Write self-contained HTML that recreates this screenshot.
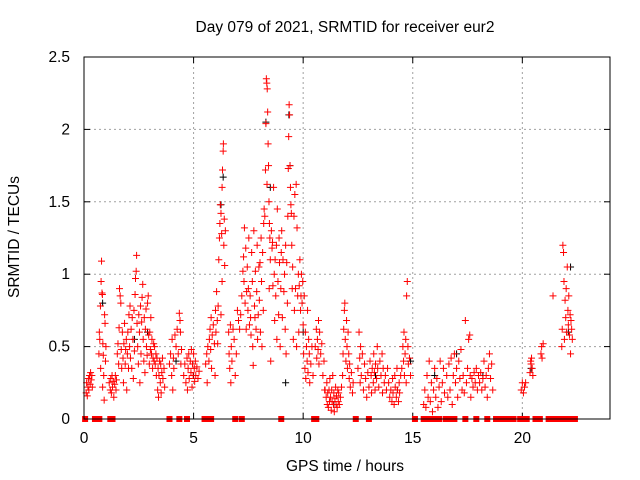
<!DOCTYPE html>
<html><head><meta charset="utf-8">
<style>
html,body{margin:0;padding:0;background:#fff;}
svg{display:block;font-family:"Liberation Sans",sans-serif;}
</style></head>
<body>
<svg id="chart" width="640" height="480" viewBox="0 0 640 480">
  <text x="345" y="32" font-size="15.5" text-anchor="middle" fill="#000">Day 079 of 2021, SRMTID for receiver eur2</text>
  <text x="0" y="0" font-size="15.5" text-anchor="middle" transform="translate(19,237) rotate(-90)">SRMTID / TECUs</text>
  <text x="345" y="471" font-size="15.5" text-anchor="middle">GPS time / hours</text>
  <g id="grid"></g>
  <g id="ticks"></g>
  <g id="marks"></g>
  <rect x="84" y="57" width="526" height="362" fill="none" stroke="#000" stroke-width="1"/>
</svg>
<script>
const xTicks = [0, 5, 10, 15, 20];
const yTicks = [0, 0.5, 1, 1.5, 2, 2.5];
const yTickLabels = ["0", "0.5", "1", "1.5", "2", "2.5"];
const redPoints = [
[0.1,.18],[0.12,.25],[0.15,.16],[0.18,.22],[0.2,.28],[0.22,.2],[0.25,.3],[0.28,.24],[0.3,.32],[0.33,.27],[0.36,.3],[0.38,.22],
[0.68,.45],[0.7,.6],[0.72,.55],[0.75,.78],[0.78,.95],[0.8,1.09],[0.82,.87],[0.84,.86],[0.86,.52],[0.88,.44],[0.9,.3],[0.92,.13],[0.94,.72],[0.96,.66],[0.98,.4],[1.0,.5],[0.85,.22],[0.76,.35],
[1.15,.25],[1.2,.2],[1.22,.28],[1.25,.18],[1.28,.3],[1.3,.22],[1.33,.26],[1.36,.15],[1.4,.24],[1.43,.3],[1.46,.2],[1.48,.27],
[1.52,.45],[1.55,.52],[1.58,.38],[1.6,.63],[1.62,.9],[1.65,.85],[1.68,.8],[1.7,.48],[1.72,.35],[1.75,.6],[1.78,.42],[1.8,.25],[1.82,.52],[1.85,.66],[1.88,.38],[1.9,.48],[1.93,.55],[1.95,.2],[1.98,.45],[2.0,.6],[2.03,.35],
[2.05,.72],[2.08,.5],[2.1,.78],[2.12,.42],[2.15,.62],[2.18,.35],[2.2,.7],[2.23,.55],[2.25,.28],[2.28,.75],[2.3,.47],[2.33,.86],[2.35,.97],[2.38,1.02],[2.4,1.13],[2.42,.66],[2.45,.5],[2.48,.38],[2.5,.72],[2.53,.6],[2.55,.25],[2.58,.78],[2.6,.45],[2.63,.67],[2.65,.84],[2.68,.93],[2.7,.55],[2.73,.4],[2.75,.7],[2.78,.32],[2.8,.62],[2.83,.76],[2.85,.5],[2.88,.44],[2.9,.8],[2.93,.85],[2.95,.58],[2.98,.38],[3.0,.6],[3.03,.48],[3.05,.7],[3.08,.45],[3.1,.55],[3.13,.35],[3.15,.42],[3.18,.52],
[3.2,.4],[3.22,.5],[3.25,.38],[3.28,.45],[3.3,.3],[3.33,.42],[3.36,.2],[3.38,.35],[3.4,.15],[3.42,.3],[3.45,.4],[3.48,.25],[3.5,.38],[3.52,.18],[3.55,.32],[3.58,.42],[3.6,.28],[3.65,.35],[3.68,.22],
[3.9,.38],[3.95,.45],[4.0,.3],[4.02,.55],[4.05,.2],[4.08,.42],[4.1,.35],[4.15,.58],[4.2,.5],[4.25,.62],[4.3,.45],[4.35,.73],[4.38,.68],[4.4,.6],[4.42,.38],[4.45,.48],
[4.55,.3],[4.6,.38],[4.65,.25],[4.7,.42],[4.72,.2],[4.75,.35],[4.78,.45],[4.8,.28],[4.85,.4],[4.88,.32],[4.9,.48],[4.93,.22],[4.95,.38],[4.98,.3],[5.0,.45],[5.03,.35],[5.05,.26],[5.08,.4],[5.1,.3],[5.15,.36],[5.2,.28],[5.25,.33],
[5.55,.38],[5.6,.45],[5.62,.25],[5.65,.5],[5.7,.4],[5.72,.55],[5.75,.62],[5.78,.48],[5.8,.7],[5.82,.35],[5.85,.58],[5.9,.65],[5.95,.52],[5.98,.3],
[6.0,.75],[6.02,.6],[6.05,.88],[6.08,.68],[6.1,.52],[6.12,.78],[6.15,1.1],[6.18,1.25],[6.2,1.35],[6.22,1.48],[6.25,1.42],[6.28,1.28],[6.3,1.6],[6.32,1.72],[6.35,1.85],[6.36,1.9],[6.38,1.2],[6.4,1.38],[6.42,1.06],[6.45,1.3],[6.3,.95],[6.25,.72],
[6.6,.6],[6.62,.45],[6.65,.35],[6.68,.65],[6.7,.25],[6.72,.5],[6.75,.4],[6.8,.62],[6.85,.55],[6.9,.3],[6.95,.45],
[7.0,.75],[7.05,.68],[7.1,.62],[7.15,.72],[7.2,.85],[7.25,1.02],[7.28,1.12],[7.3,.95],[7.32,1.32],[7.35,.8],[7.38,1.18],[7.4,.62],[7.42,.88],[7.45,1.05],[7.48,.75],[7.5,.9],[7.52,1.25],[7.55,.65],[7.58,.85],[7.6,.7],[7.62,.58],[7.65,1.15],[7.68,.95],[7.7,.5],[7.72,.37],[7.75,1.3],[7.78,.78],[7.8,.7],[7.82,1.02],[7.85,.62],[7.88,.88],[7.9,1.2],[7.92,.55],[7.95,.72],[7.98,1.05],
[8.0,.82],[8.03,1.08],[8.05,.6],[8.08,1.25],[8.1,.95],[8.12,.5],[8.15,1.15],[8.18,.75],[8.2,1.35],[8.22,1.45],[8.25,1.4],[8.28,1.72],[8.3,2.04],[8.32,2.35],[8.34,2.32],[8.36,2.28],[8.38,2.12],[8.4,1.9],[8.42,1.75],[8.44,1.5],[8.46,1.35],[8.48,1.25],[8.5,1.1],[8.52,.4],[8.55,1.3],[8.58,1.18],[8.35,1.62],[8.45,.9],
[8.6,1.22],[8.62,.92],[8.65,1.6],[8.68,1.0],[8.7,.68],[8.72,1.1],[8.75,.85],[8.78,1.2],[8.8,.55],[8.82,1.45],[8.85,.95],[8.88,.72],[8.9,1.25],[8.92,1.08],[8.95,.5],[8.98,.9],[9.0,1.15],[9.02,1.3],[9.05,.7],[9.08,1.1],[9.12,.88],[9.15,1.0],[9.18,.62],[9.2,1.2],[9.22,.45],[9.25,1.08],[9.28,.8],
[9.3,1.4],[9.32,1.73],[9.34,1.95],[9.36,2.17],[9.38,2.1],[9.4,1.75],[9.42,1.6],[9.44,1.48],[9.46,1.42],[9.48,1.2],[9.5,.9],[9.52,1.05],[9.55,.55],[9.58,1.4],[9.6,.75],[9.62,1.55],[9.65,.9],[9.68,1.62],[9.7,.5],[9.72,1.32],[9.75,.85],[9.78,1.0],[9.8,.6],[9.82,.92],[9.85,1.1],[9.88,.75],[9.9,.85],[9.92,1.0],[9.95,.8],[9.98,.95],
[10.0,.65],[10.02,.45],[10.05,.85],[10.08,.35],[10.1,.6],[10.12,.28],[10.15,.5],[10.18,.4],[10.2,.75],[10.22,.32],[10.25,.55],[10.28,.45],[10.3,.25],[10.35,.38],[10.4,.5],[10.45,.3],
[10.55,.5],[10.6,.62],[10.62,.42],[10.65,.55],[10.68,.48],[10.7,.68],[10.72,.38],[10.75,.6],[10.8,.45],[10.85,.52],[10.9,.3],[10.95,.4],[10.98,.2],
[11.0,.2],[11.05,.15],[11.08,.25],[11.1,.1],[11.12,.18],[11.15,.08],[11.18,.2],[11.2,.12],[11.22,.28],[11.25,.15],[11.28,.06],[11.3,.2],[11.32,.12],[11.35,.3],[11.38,.1],[11.4,.18],[11.42,.05],[11.45,.14],[11.48,.22],[11.5,.1],[11.52,.16],[11.55,.08],[11.58,.2],[11.6,.12],[11.62,.18],[11.65,.1],[11.7,.15],[11.75,.22],
[11.8,.3],[11.82,.45],[11.85,.62],[11.88,.75],[11.9,.8],[11.92,.55],[11.95,.4],[11.98,.68],[12.0,.5],[12.02,.35],[12.05,.6],[12.08,.45],[12.1,.28],[12.12,.38],[12.15,.22],[12.2,.32],[12.25,.18],[12.28,.25],
[12.5,.35],[12.55,.6],[12.58,.42],[12.6,.25],[12.62,.5],[12.65,.3],[12.7,.45],[12.75,.2],[12.8,.38],[12.85,.28],[12.9,.15],[12.95,.32],[13.0,.22],[13.05,.4],[13.1,.3],[13.12,.18],[13.15,.35],[13.2,.25],[13.22,.45],[13.25,.32],[13.28,.2],[13.3,.38],[13.35,.28],[13.38,.5],[13.4,.35],[13.45,.22],[13.5,.4],[13.55,.3],[13.6,.45],[13.62,.18],[13.65,.35],[13.7,.25],[13.75,.3],[13.8,.2],[13.85,.35],[13.9,.25],[13.95,.15],
[14.0,.2],[14.05,.12],[14.08,.28],[14.1,.18],[14.15,.1],[14.18,.3],[14.2,.22],[14.25,.15],[14.28,.35],[14.3,.2],[14.35,.12],[14.38,.25],[14.4,.18],[14.45,.3],
[14.5,.35],[14.55,.5],[14.58,.4],[14.6,.6],[14.62,.3],[14.65,.45],[14.68,.55],[14.7,.25],[14.72,.85],[14.75,.95],[14.78,.5],[14.8,.38],[14.85,.42],[14.9,.3],
[15.5,.1],[15.55,.2],[15.6,.08],[15.65,.3],[15.7,.15],[15.75,.4],[15.8,.12],[15.85,.25],[15.9,.05],[15.95,.2],[16.0,.35],[16.05,.15],[16.1,.28],[16.15,.08],[16.2,.22],[16.25,.4],[16.3,.12],[16.35,.25],[16.4,.35],[16.45,.18],
[16.55,.3],[16.6,.15],[16.65,.38],[16.7,.2],[16.75,.42],[16.8,.1],[16.85,.3],[16.9,.45],[16.95,.25],[17.0,.35],[17.05,.15],[17.1,.4],[17.15,.28],[17.2,.48],[17.25,.2],
[17.3,.3],[17.35,.18],[17.4,.68],[17.45,.25],[17.5,.35],[17.55,.55],[17.6,.58],[17.62,.3],[17.65,.15],[17.7,.28],[17.75,.22],[17.8,.32],[17.85,.25],[17.9,.35],[17.95,.2],
[18.0,.3],[18.05,.25],[18.1,.32],[18.15,.2],[18.2,.28],[18.25,.4],[18.3,.22],[18.35,.3],[18.4,.15],[18.45,.35],[18.5,.45],[18.55,.28],[18.6,.38],[18.65,.2],
[19.95,.2],[20.0,.25],[20.05,.18],[20.1,.22],[20.15,.25],[20.35,.32],[20.38,.4],[20.4,.38],[20.42,.42],[20.45,.35],[20.48,.3],[20.85,.45],[20.88,.5],[20.9,.42],[20.95,.52],[21.4,.85],
[21.8,.5],[21.82,.62],[21.85,1.2],[21.88,1.15],[21.9,.95],[21.92,.55],[21.95,.82],[21.98,.7],[22.0,.9],[22.02,.6],[22.05,1.05],[22.08,.75],[22.1,.65],[22.12,.85],[22.15,.58],[22.18,.72],[22.2,.45],[22.22,.68],[22.25,.62],[22.28,.55]
];
const blackPoints = [[0.85,.8],[2.3,.55],[2.9,.6],[4.2,.4],[5.0,.3],[6.25,1.48],[6.35,1.67],[8.3,2.05],[8.5,1.6],[9.35,2.1],[9.4,1.75],[9.2,.25],[10.0,.6],[11.4,.1],[13.3,.3],[14.3,.2],[14.9,.4],[16.0,.3],[17.0,.45],[18.2,.3],[20.4,.35],[22.2,1.05],[22.1,.6]];
const zeroTimes = [0.05,0.5,0.6,0.7,1.2,1.3,3.9,4.35,4.7,5.5,5.6,5.7,5.8,6.9,7.2,9.0,10.5,10.6,12.4,13.0,15.1,15.5,15.6,15.8,16.0,16.2,16.5,16.7,16.9,17.4,17.9,18.4,18.8,19.0,19.2,19.4,19.6,19.9,20.0,20.2,20.6,20.8,21.2,21.4,21.6,21.8,22.0,22.2,22.4];

const X0 = 84, X1 = 610, Y0 = 419, Y1 = 57;
const xScale = t => X0 + t / 24 * (X1 - X0);
const yScale = v => Y0 - v / 2.5 * (Y0 - Y1);
const NS = "http://www.w3.org/2000/svg";
function mk(tag, attrs, parent) {
  const e = document.createElementNS(NS, tag);
  for (const k in attrs) e.setAttribute(k, attrs[k]);
  parent.appendChild(e);
  return e;
}
const grid = document.getElementById('grid');
const ticks = document.getElementById('ticks');
const marks = document.getElementById('marks');

xTicks.forEach(t => {
  const x = xScale(t);
  if (t > 0) {
    const g = mk('line', {x1:x, x2:x, y1:Y1, y2:Y0, stroke:'#a0a0a0', 'stroke-dasharray':'2,3', 'stroke-width':1}, grid);
    
    
  }
  const tl = mk('text', {x:x, y:443, 'font-size':15.5, 'text-anchor':'middle'}, ticks);
  tl.textContent = t;
  
  
  mk('line', {x1:x, x2:x, y1:Y0, y2:Y0-6, stroke:'#000'}, ticks);
  mk('line', {x1:x, x2:x, y1:Y1, y2:Y1+6, stroke:'#000'}, ticks);
});
yTicks.forEach((v, i) => {
  const y = yScale(v);
  if (v > 0 && v < 2.5) {
    const g = mk('line', {x1:X0, x2:X1, y1:y, y2:y, stroke:'#a0a0a0', 'stroke-dasharray':'2,3', 'stroke-width':1}, grid);
    
    
  }
  const tl = mk('text', {x:70, y:y+5, 'font-size':15.5, 'text-anchor':'end'}, ticks);
  tl.textContent = yTickLabels[i];
  
  
  mk('line', {x1:X0, x2:X0+6, y1:y, y2:y, stroke:'#000'}, ticks);
  mk('line', {x1:X1, x2:X1-6, y1:y, y2:y, stroke:'#000'}, ticks);
});

function plus(t, v, color, name) {
  const x = xScale(t), y = yScale(v);
  const p = mk('path', {d:`M${x-3.5},${y}H${x+3.5}M${x},${y-3.5}V${y+3.5}`, stroke:color, 'stroke-width':1, fill:'none'}, marks);
  
  
}
blackPoints.forEach(p => plus(p[0], p[1], '#000', 'black-point'));
redPoints.forEach(p => plus(p[0], p[1], '#ff0000', 'red-point'));
zeroTimes.forEach(t => {
  const r = mk('rect', {x:xScale(t)-3, y:yScale(0)-3, width:6, height:6, fill:'#ff0000'}, marks);
  
  
});
</script>
</body></html>
